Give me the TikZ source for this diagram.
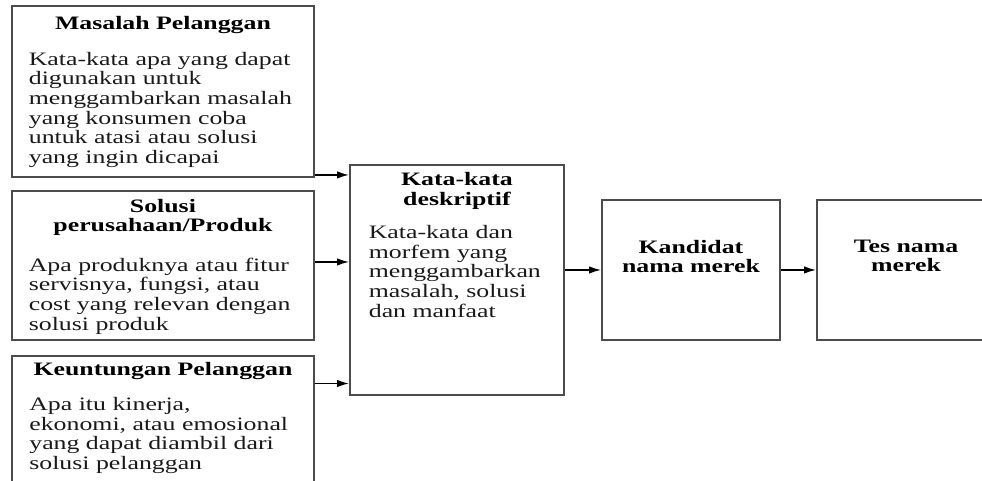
\documentclass[tikz,border=0pt]{standalone}
\usepackage{fontspec}
\setmainfont{Liberation Serif}[FakeStretch=1.36]
\usetikzlibrary{positioning, arrows.meta}

\begin{document}
\begin{tikzpicture}[
        kotak/.style={rectangle, draw=black!70, line width=1.1pt, inner sep=0pt, anchor=north west},
        judul/.style={font=\fontsize{10.8}{11.2}\selectfont\bfseries, align=center, inner sep=0pt},
        isi/.style={font=\fontsize{10.8}{11.2}\selectfont, align=left, inner sep=0pt, text=black!90},
        panah/.style={-{Latex[length=2.4mm,width=1.5mm]}, line width=0.8pt}
    ]
        \useasboundingbox (0,0) rectangle (19.64,-9.62);
        \clip (0,0) rectangle (19.64,-9.62);

        % kotak kiri
        \node[kotak, minimum width=6.04cm, minimum height=3.42cm](masalah) at (0.22,-0.10) {};
        \node[judul](masalahJ)[below = 0.21cm of masalah.north]{Masalah Pelanggan};
        \node[isi](masalahI)[below right = 0.93cm and 0.35cm of masalah.north west]{Kata-kata apa yang dapat\\ digunakan untuk\\ menggambarkan masalah\\ yang konsumen coba\\ untuk atasi atau solusi\\ yang ingin dicapai};

        \node[kotak, minimum width=6.04cm, minimum height=2.98cm](solusi) at (0.22,-3.80) {};
        \node[judul](solusiJ)[below = 0.17cm of solusi.north]{Solusi\\ perusahaan/Produk};
        \node[isi](solusiI)[below right = 1.35cm and 0.35cm of solusi.north west]{Apa produknya atau fitur\\ servisnya, fungsi, atau\\ cost yang relevan dengan\\ solusi produk};

        \node[kotak, minimum width=6.04cm, minimum height=3.00cm](keuntungan) at (0.22,-7.10) {};
        \node[judul](keuntunganJ)[below = 0.14cm of keuntungan.north]{Keuntungan Pelanggan};
        \node[isi](keuntunganI)[below right = 0.84cm and 0.36cm of keuntungan.north west]{Apa itu kinerja,\\ ekonomi, atau emosional\\ yang dapat diambil dari\\ solusi pelanggan};

        % kotak tengah dan kanan
        \node[kotak, minimum width=4.28cm, minimum height=4.60cm](deskriptif) at (6.98,-3.28) {};
        \node[judul](deskriptifJ)[below = 0.16cm of deskriptif.north]{Kata-kata\\ deskriptif};
        \node[isi](deskriptifI)[below right = 1.22cm and 0.39cm of deskriptif.north west]{Kata-kata dan\\ morfem yang\\ menggambarkan\\ masalah, solusi\\ dan manfaat};

        \node[kotak, minimum width=3.56cm, minimum height=2.80cm](kandidat) at (12.02,-3.98) {};
        \node[judul](kandidatJ)[below = 0.81cm of kandidat.north]{Kandidat\\ nama merek};

        \node[kotak, minimum width=3.56cm, minimum height=2.80cm](tes) at (16.32,-3.98) {};
        \node[judul](tesJ)[below = 0.81cm of tes.north]{Tes nama\\ merek};

        % panah
        \coordinate (m1) at ([yshift=0.06cm]masalah.south east);
        \coordinate (s1) at ([yshift=0.07cm]solusi.east);
        \coordinate (k1) at ([yshift=-0.57cm]keuntungan.north east);
        \draw[panah] (m1) -- (m1 -| deskriptif.west);
        \draw[panah] (s1) -- (s1 -| deskriptif.west);
        \draw[panah] (k1) -- (k1 -| deskriptif.west);
        \draw[panah] (deskriptif.east |- kandidat.west) -- (kandidat.west);
        \path[draw, panah]
        (kandidat) edge node {} (tes);
    \end{tikzpicture}
\end{document}
